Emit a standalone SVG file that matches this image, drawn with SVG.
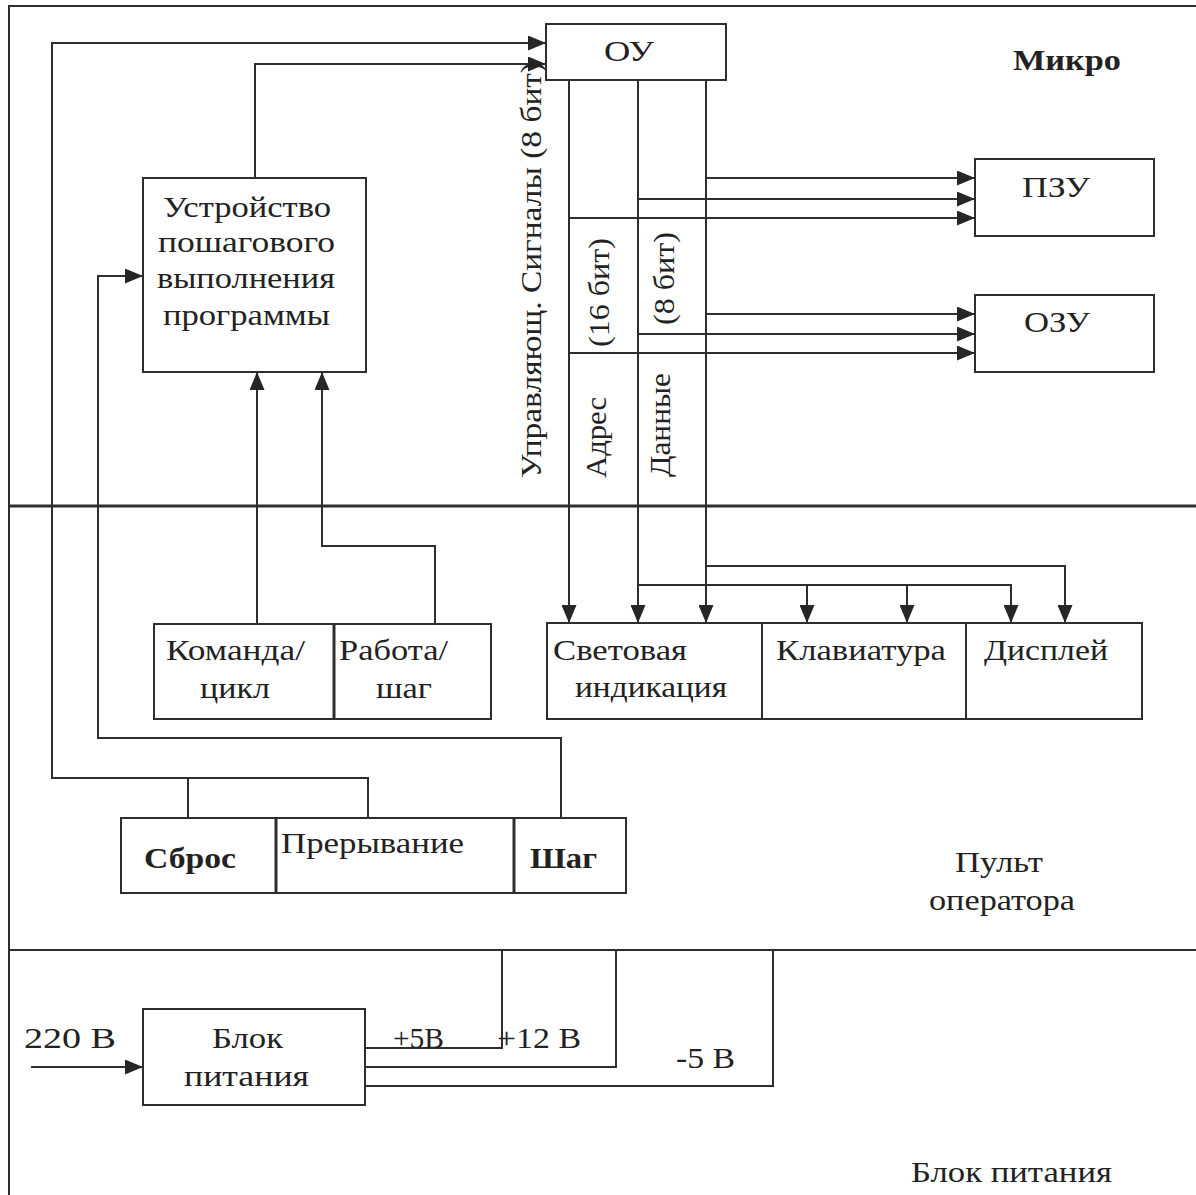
<svg xmlns="http://www.w3.org/2000/svg" width="1196" height="1195" viewBox="0 0 1196 1195">
<style>
.ln{fill:none;stroke:#2e2e2e;stroke-width:2}
.thick{fill:none;stroke:#2e2e2e;stroke-width:3}
.box{fill:#fff;stroke:#2e2e2e;stroke-width:2}
.t{font-family:"Liberation Serif","Times New Roman",serif;font-size:30px;fill:#222}
.b{font-weight:bold}
</style>
<defs>
<marker id="ah" markerUnits="userSpaceOnUse" markerWidth="18" markerHeight="15" refX="18" refY="7.5" orient="auto">
<path d="M0,0 L18,7.5 L0,15 z" fill="#262626"/>
</marker>
</defs>
<rect width="1196" height="1195" fill="#fff"/>
<g id="frame">
<path class="ln" d="M9,1195 V6 H1196"/>
<path class="thick" d="M9,506 H1196"/>
<path class="ln" d="M9,950 H1196"/>
</g>
<g id="connectors">
<path class="ln" d="M368,818 V778 H52 V43 H546" marker-end="url(#ah)"/>
<path class="ln" d="M188,818 V778"/>
<path class="ln" d="M255,178 V64 H546" marker-end="url(#ah)"/>
<path class="ln" d="M561,818 V738 H98 V276 H143" marker-end="url(#ah)"/>
<path class="ln" d="M257,624 V372" marker-end="url(#ah)"/>
<path class="ln" d="M435,624 V546 H322 V372" marker-end="url(#ah)"/>
<path class="ln" d="M569,80 V623" marker-end="url(#ah)"/>
<path class="ln" d="M638,80 V623" marker-end="url(#ah)"/>
<path class="ln" d="M706,80 V623" marker-end="url(#ah)"/>
<path class="ln" d="M706,178 H975" marker-end="url(#ah)"/>
<path class="ln" d="M638,199 H975" marker-end="url(#ah)"/>
<path class="ln" d="M569,218 H975" marker-end="url(#ah)"/>
<path class="ln" d="M706,314 H975" marker-end="url(#ah)"/>
<path class="ln" d="M638,334 H975" marker-end="url(#ah)"/>
<path class="ln" d="M569,353 H975" marker-end="url(#ah)"/>
<path class="ln" d="M638,585 H1011 V623" marker-end="url(#ah)"/>
<path class="ln" d="M807,585 V623" marker-end="url(#ah)"/>
<path class="ln" d="M907,585 V623" marker-end="url(#ah)"/>
<path class="ln" d="M706,566 H1065 V623" marker-end="url(#ah)"/>
<path class="ln" d="M31,1067 H143" marker-end="url(#ah)"/>
<path class="ln" d="M365,1048 H502 V950"/>
<path class="ln" d="M365,1067 H616 V950"/>
<path class="ln" d="M365,1086 H773 V950"/>
</g>
<g id="bus-labels">
<text class="t" transform="translate(541,478) rotate(-90)" textLength="416" lengthAdjust="spacingAndGlyphs">Управляющ. Сигналы (8 бит)</text>
<text class="t" transform="translate(609,347) rotate(-90)" textLength="109" lengthAdjust="spacingAndGlyphs">(16 бит)</text>
<text class="t" transform="translate(674,325) rotate(-90)" textLength="93" lengthAdjust="spacingAndGlyphs">(8 бит)</text>
<text class="t" transform="translate(606,478) rotate(-90)" textLength="81" lengthAdjust="spacingAndGlyphs">Адрес</text>
<text class="t" transform="translate(670,477) rotate(-90)" textLength="104" lengthAdjust="spacingAndGlyphs">Данные</text>
</g>
<g id="ou">
<rect class="box" x="546" y="24" width="180" height="56"/>
<text class="t" x="604" y="61" textLength="50" lengthAdjust="spacingAndGlyphs">ОУ</text>
</g>
<g id="micro-label">
<text class="t b" x="1013" y="70" textLength="108" lengthAdjust="spacingAndGlyphs">Микро</text>
</g>
<g id="pzu">
<rect class="box" x="975" y="159" width="179" height="77"/>
<text class="t" x="1022" y="197" textLength="68" lengthAdjust="spacingAndGlyphs">ПЗУ</text>
</g>
<g id="ozu">
<rect class="box" x="975" y="295" width="179" height="77"/>
<text class="t" x="1024" y="332" textLength="66" lengthAdjust="spacingAndGlyphs">ОЗУ</text>
</g>
<g id="step-device">
<rect class="box" x="143" y="178" width="223" height="194"/>
<text class="t" x="163" y="217" textLength="168" lengthAdjust="spacingAndGlyphs">Устройство</text>
<text class="t" x="158" y="252" textLength="177" lengthAdjust="spacingAndGlyphs">пошагового</text>
<text class="t" x="157" y="288" textLength="178" lengthAdjust="spacingAndGlyphs">выполнения</text>
<text class="t" x="163" y="325" textLength="167" lengthAdjust="spacingAndGlyphs">программы</text>
</g>
<g id="switches">
<rect class="box" x="154" y="624" width="337" height="95"/>
<path class="thick" d="M334,624 V719"/>
<text class="t" x="166" y="660" textLength="139" lengthAdjust="spacingAndGlyphs">Команда/</text>
<text class="t" x="200" y="698" textLength="70" lengthAdjust="spacingAndGlyphs">цикл</text>
<text class="t" x="339" y="660" textLength="109" lengthAdjust="spacingAndGlyphs">Работа/</text>
<text class="t" x="376" y="698" textLength="56" lengthAdjust="spacingAndGlyphs">шаг</text>
</g>
<g id="io">
<rect class="box" x="547" y="623" width="595" height="96"/>
<path class="ln" d="M762,623 V719 M966,623 V719"/>
<text class="t" x="553" y="660" textLength="134" lengthAdjust="spacingAndGlyphs">Световая</text>
<text class="t" x="575" y="697" textLength="152" lengthAdjust="spacingAndGlyphs">индикация</text>
<text class="t" x="776" y="660" textLength="170" lengthAdjust="spacingAndGlyphs">Клавиатура</text>
<text class="t" x="984" y="660" textLength="124" lengthAdjust="spacingAndGlyphs">Дисплей</text>
</g>
<g id="buttons">
<rect class="box" x="121" y="818" width="505" height="75"/>
<path class="thick" d="M276,818 V893 M514,818 V893"/>
<text class="t b" x="144" y="868" textLength="92" lengthAdjust="spacingAndGlyphs">Сброс</text>
<text class="t" x="281" y="853" textLength="183" lengthAdjust="spacingAndGlyphs">Прерывание</text>
<text class="t b" x="530" y="868" textLength="67" lengthAdjust="spacingAndGlyphs">Шаг</text>
</g>
<g id="panel-label">
<text class="t" x="955" y="872" textLength="88" lengthAdjust="spacingAndGlyphs">Пульт</text>
<text class="t" x="929" y="910" textLength="146" lengthAdjust="spacingAndGlyphs">оператора</text>
</g>
<g id="psu">
<rect class="box" x="143" y="1009" width="222" height="96"/>
<text class="t" x="212" y="1048" textLength="71" lengthAdjust="spacingAndGlyphs">Блок</text>
<text class="t" x="184" y="1086" textLength="125" lengthAdjust="spacingAndGlyphs">питания</text>
</g>
<g id="power-labels">
<text class="t" x="24" y="1048" textLength="92" lengthAdjust="spacingAndGlyphs">220 В</text>
<text class="t" x="393" y="1048" textLength="51" lengthAdjust="spacingAndGlyphs">+5В</text>
<text class="t" x="497" y="1048" textLength="84" lengthAdjust="spacingAndGlyphs">+12 В</text>
<text class="t" x="676" y="1068" textLength="59" lengthAdjust="spacingAndGlyphs">-5 В</text>
<text class="t" x="911" y="1182" textLength="201" lengthAdjust="spacingAndGlyphs">Блок питания</text>
</g>
</svg>
